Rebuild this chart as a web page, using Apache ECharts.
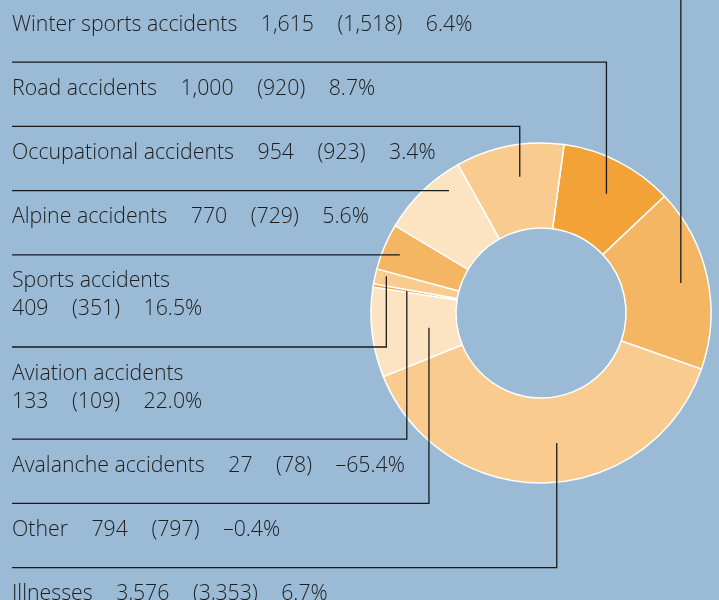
<!DOCTYPE html>
<html>
<head>
<meta charset="utf-8">
<script src="https://cdn.jsdelivr.net/npm/echarts@6/dist/echarts.min.js"></script>
<style>
html, body { margin: 0; padding: 0; background: #9abad5; }
#chart { width: 719px; height: 600px; }
</style>
</head>
<body>
<div id="chart"></div>
<script>
// categories in the order of the list on the left
const categories = ['Winter sports accidents', 'Road accidents', 'Occupational accidents', 'Alpine accidents',
    'Sports accidents', 'Aviation accidents', 'Avalanche accidents', 'Other', 'Illnesses'];
const cases = [1615, 1000, 954, 770, 409, 133, 27, 794, 3576];
const casesPrev = [1518, 920, 923, 729, 351, 109, 78, 797, 3353];
const changePct = [6.4, 8.7, 3.4, 5.6, 16.5, 22.0, -65.4, -0.4, 6.7];

// order the slices are drawn in, clockwise from the top
const sliceOrder = [1, 0, 8, 7, 6, 5, 4, 3, 2];

// styling / layout (per category)
const sliceColors = ['#f5b663', '#f2a236', '#f9cb8e', '#fce3c2', '#f5b663', '#f9cb8e', '#f2a236', '#fce3c2', '#f9cb8e'];
const labelRows = [1, 1, 1, 1, 2, 2, 1, 1, 1];
const anchorRadius = [143, 136, 138, 153, 153, 159, 136, 113, 131];
const anchorPos = [0.5, 0.54, 0.55, 0.73, 0.45, 0.68, 0.5, 0.47, 0.46];

const cx = 541, cy = 313, r0 = 85, r1 = 170;
const startAngle = 82.2;
const textX = 12, firstLineY = -2, rowGap = 64.2, lineGap = 28;

const lineY = [];
let yy = firstLineY;
labelRows.forEach((n, i) => { lineY[i] = yy; yy += rowGap + lineGap * (n - 1); });

const fmt = v => v.toLocaleString('en-US');
const fmtPct = v => (v < 0 ? '\u2013' : '') + Math.abs(v).toFixed(1) + '%';

const total = cases.reduce((s, v) => s + v, 0);
let acc = 90 - startAngle;
const pieData = sliceOrder.map(k => {
    const a0 = acc;
    acc += cases[k] / total * 360;
    return { name: categories[k], value: cases[k], cat: k, a0: a0, a1: acc, itemStyle: { color: sliceColors[k] } };
});

function labelText(k) {
    const tail = '{v|(' + fmt(casesPrev[k]) + ')}{v|' + fmtPct(changePct[k]) + '}';
    if (labelRows[k] > 1) {
        return '{n|' + categories[k] + '}\n{n|' + fmt(cases[k]) + '}' + tail;
    }
    return '{n|' + categories[k] + '}{v|' + fmt(cases[k]) + '}' + tail;
}

const txt = { fontFamily: 'Open Sans', fontWeight: 300, fontSize: 21.3, color: '#1e1e1e', lineHeight: lineGap };

const chart = echarts.init(document.getElementById('chart'));
chart.setOption({
    backgroundColor: '#9abad5',
    animation: false,
    series: [{
        // the ring
        type: 'pie',
        z: 2,
        center: [cx, cy],
        radius: [r0, r1],
        startAngle: startAngle,
        clockwise: true,
        silent: true,
        data: pieData,
        itemStyle: { borderColor: '#ffffff', borderWidth: 1.5 },
        label: { show: false },
        labelLine: { show: false }
    }, {
        // same ring again, invisible, only for the labels and leader lines on top
        type: 'pie',
        z: 5,
        center: [cx, cy],
        radius: [r0, r1],
        startAngle: startAngle,
        clockwise: true,
        avoidLabelOverlap: false,
        silent: true,
        data: pieData.map(d => Object.assign({}, d, { itemStyle: { color: 'rgba(0,0,0,0)' } })),
        itemStyle: { borderWidth: 0 },
        label: {
            show: true,
            position: 'outside',
            formatter: p => labelText(pieData[p.dataIndex].cat),
            rich: {
                n: Object.assign({}, txt),
                v: Object.assign({ padding: [0, 0, 0, 23.5] }, txt)
            }
        },
        labelLine: { show: true, length: 10, length2: 10, lineStyle: { color: '#1a1a1a', width: 1.3 } },
        labelLayout: function (params) {
            const d = pieData[params.dataIndex];
            const k = d.cat;
            const a = (d.a0 + anchorPos[k] * (d.a1 - d.a0)) * Math.PI / 180;
            const ax = cx + anchorRadius[k] * Math.sin(a);
            const ay = cy - anchorRadius[k] * Math.cos(a);
            return {
                x: textX,
                y: lineY[k] + 12.5,
                align: 'left',
                verticalAlign: 'top',
                labelLinePoints: [[ax, ay], [ax, lineY[k]], [textX, lineY[k]]]
            };
        }
    }]
});
</script>
</body>
</html>
